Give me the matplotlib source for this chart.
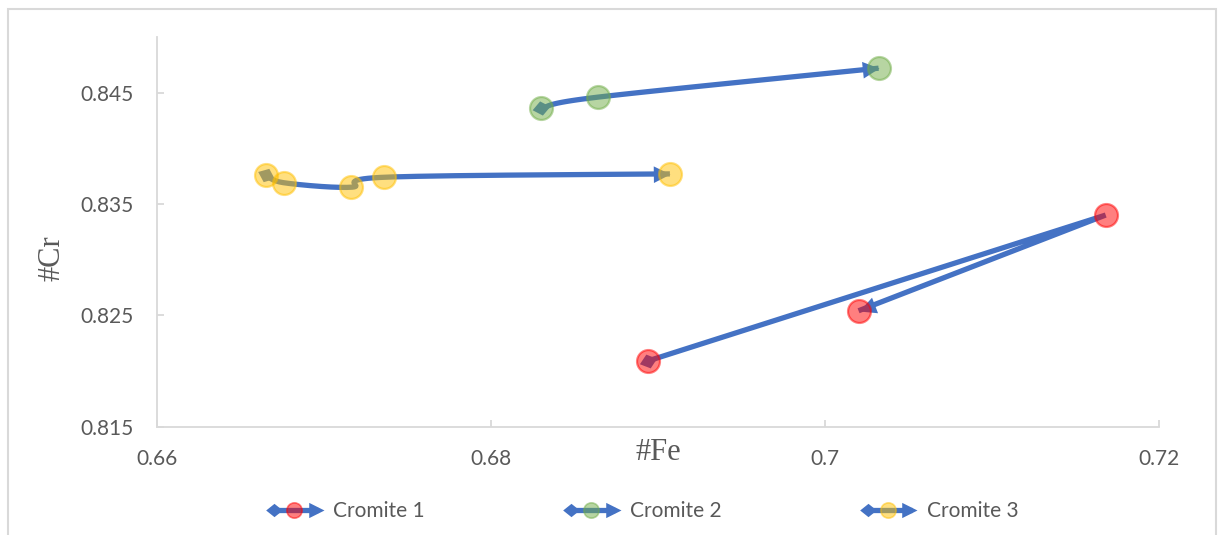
import numpy as np
import matplotlib
matplotlib.use("Agg")
import matplotlib.pyplot as plt
from matplotlib.lines import Line2D
from matplotlib.markers import MarkerStyle
from matplotlib.path import Path
from matplotlib.transforms import Affine2D
from matplotlib.legend_handler import HandlerBase
from matplotlib.patches import Rectangle

# ---- data -------------------------------------------------------------
series_names = ["Cromite 1", "Cromite 2", "Cromite 3"]
fe_1 = [0.6894, 0.7168, 0.7020]
cr_1 = [0.8209, 0.8340, 0.8254]
fe_2 = [0.6830, 0.6864, 0.7032]
cr_2 = [0.8436, 0.8446, 0.8472]
fe_3 = [0.6665, 0.6676, 0.6716, 0.6736, 0.6907]
cr_3 = [0.8376, 0.8369, 0.8365, 0.8374, 0.8377]
smoothed = [False, True, True]

x_ticks = [0.66, 0.68, 0.70, 0.72]
x_tick_labels = ["0.66", "0.68", "0.7", "0.72"]
y_ticks = [0.815, 0.825, 0.835, 0.845]
y_tick_labels = ["0.815", "0.825", "0.835", "0.845"]

# ---- style ------------------------------------------------------------
LINE_BLUE = "#4472C4"
MARKER_COLORS = ["#FF0000", "#70AD47", "#FFC000"]
AXIS_GRAY = "#D9D9D9"
TEXT_GRAY = "#595959"
LINE_W = 3.8
plt.rcParams["font.family"] = ["Lato", "DejaVu Sans"]

# arrow-head path with its tip at the origin, pointing along +x
ARROW_PATH = Path([(0, 0), (-1, 0.5), (-1, -0.5), (0, 0)],
                  [Path.MOVETO, Path.LINETO, Path.LINETO, Path.CLOSEPOLY])
# diamond centred on the origin, long axis along +x
DIAMOND_PATH = Path([(1, 0), (0, 0.8), (-1, 0), (0, -0.8), (1, 0)],
                    [Path.MOVETO, Path.LINETO, Path.LINETO, Path.LINETO, Path.CLOSEPOLY])


def oriented(path, angle):
    return MarkerStyle(path, transform=Affine2D().rotate_deg(angle))


fig = plt.figure(figsize=(12.18, 5.35), dpi=100)
ax = fig.add_axes([0.1292, 0.2028, 0.8224, 0.7280])
ax.set_xlim(0.66, 0.72)
ax.set_ylim(0.815, 0.85)


def curve_in_display(xs, ys, smooth):
    """Return display-space points of the series path plus start/end tangents."""
    p = ax.transData.transform(np.column_stack([xs, ys]))
    if not smooth:
        return p, p[1] - p[0], p[-1] - p[-2]
    n = len(p)
    ext = np.vstack([p[0], p, p[-1]])
    out = [p[0]]
    t = np.linspace(0, 1, 40)[1:, None]
    last_c2 = None
    first_c1 = None
    for i in range(n - 1):
        a, b = ext[i + 1], ext[i + 2]
        c1 = a + (ext[i + 2] - ext[i]) / 6.0
        c2 = b - (ext[i + 3] - ext[i + 1]) / 6.0
        if first_c1 is None:
            first_c1 = c1
        last_c2 = c2
        seg = ((1 - t) ** 3) * a + 3 * ((1 - t) ** 2) * t * c1 + 3 * (1 - t) * t ** 2 * c2 + t ** 3 * b
        out.extend(seg)
    return np.array(out), first_c1 - p[0], p[-1] - last_c2


series = [(fe_1, cr_1), (fe_2, cr_2), (fe_3, cr_3)]
inv = ax.transData.inverted()
for (xs, ys), smooth, mcol, name in zip(series, smoothed, MARKER_COLORS, series_names):
    pts, d0, d1 = curve_in_display(xs, ys, smooth)
    data_pts = inv.transform(pts)
    ax.plot(data_pts[:, 0], data_pts[:, 1], color=LINE_BLUE, lw=LINE_W,
            solid_capstyle="butt", solid_joinstyle="miter", zorder=2)
    a0 = np.degrees(np.arctan2(d0[1], d0[0]))
    a1 = np.degrees(np.arctan2(d1[1], d1[0]))
    ax.plot([xs[0]], [ys[0]], linestyle="none", marker=oriented(DIAMOND_PATH, a0),
            markersize=13, color=LINE_BLUE, markeredgewidth=0, zorder=2.5)
    ax.plot([xs[-1]], [ys[-1]], linestyle="none", marker=oriented(ARROW_PATH, a1),
            markersize=24, color=LINE_BLUE, markeredgewidth=0, zorder=2.5)
    ax.plot(xs, ys, linestyle="none", marker="o", markersize=16.5,
            markerfacecolor=mcol, markeredgecolor=mcol, markeredgewidth=1.6,
            alpha=0.5, zorder=3)

# ---- axes -------------------------------------------------------------
for side in ("top", "right"):
    ax.spines[side].set_visible(False)
for side in ("left", "bottom"):
    ax.spines[side].set_color(AXIS_GRAY)
    ax.spines[side].set_linewidth(1.3)
ax.set_xticks(x_ticks, x_tick_labels)
ax.set_yticks(y_ticks, y_tick_labels)
ax.tick_params(direction="in", length=5, width=1.3, color=AXIS_GRAY,
               labelcolor=TEXT_GRAY, labelsize=15)
ax.tick_params(axis="x", pad=16)
ax.tick_params(axis="y", pad=17)
ax.set_facecolor("white")

fig.text(658 / 1218, 1 - 453 / 535, "#Fe", ha="center", va="center",
         family="Liberation Serif", fontsize=22, color=TEXT_GRAY)
fig.text(52 / 1218, 1 - 258 / 535, "#Cr", ha="center", va="center", rotation=90,
         family="Liberation Serif", fontsize=22, color=TEXT_GRAY)

# chart frame
fig.patches.append(Rectangle((8 / 1218, -0.2), (1216 - 8) / 1218, 1.2 - 9 / 535,
                             transform=fig.transFigure, fill=False,
                             edgecolor=AXIS_GRAY, linewidth=1.5))


# ---- legend -----------------------------------------------------------
class ArrowLegendHandler(HandlerBase):
    def __init__(self, color):
        super().__init__()
        self.color = color

    def create_artists(self, legend, orig_handle, xdescent, ydescent,
                       width, height, fontsize, trans):
        y = height / 2 - ydescent
        x0 = -xdescent
        x1 = x0 + width
        line = Line2D([x0 + 2, x1 - 4], [y, y], color=LINE_BLUE, lw=LINE_W,
                      solid_capstyle="butt")
        dia = Line2D([x0 + 5], [y], linestyle="none", marker=oriented(DIAMOND_PATH, 0),
                     markersize=12, color=LINE_BLUE, markeredgewidth=0)
        arr = Line2D([x1], [y], linestyle="none", marker=oriented(ARROW_PATH, 0),
                     markersize=22, color=LINE_BLUE, markeredgewidth=0)
        circ = Line2D([(x0 + x1) / 2 - 1], [y], linestyle="none", marker="o",
                      markersize=11, markerfacecolor=self.color,
                      markeredgecolor=self.color, markeredgewidth=1.2, alpha=0.5)
        for art in (line, dia, arr, circ):
            art.set_transform(trans)
        return [line, dia, arr, circ]


handles = [Line2D([], [], label=n) for n in series_names]
hmap = {h: ArrowLegendHandler(c) for h, c in zip(handles, MARKER_COLORS)}
fig.legend(handles=handles, handler_map=hmap, loc="center",
           bbox_to_anchor=(643 / 1218, 1 - 511 / 535), ncol=3, frameon=False,
           fontsize=15, labelcolor=TEXT_GRAY, handlelength=2.7,
           handletextpad=0.45, columnspacing=6.7)

fig.savefig("out.png", dpi=100)
